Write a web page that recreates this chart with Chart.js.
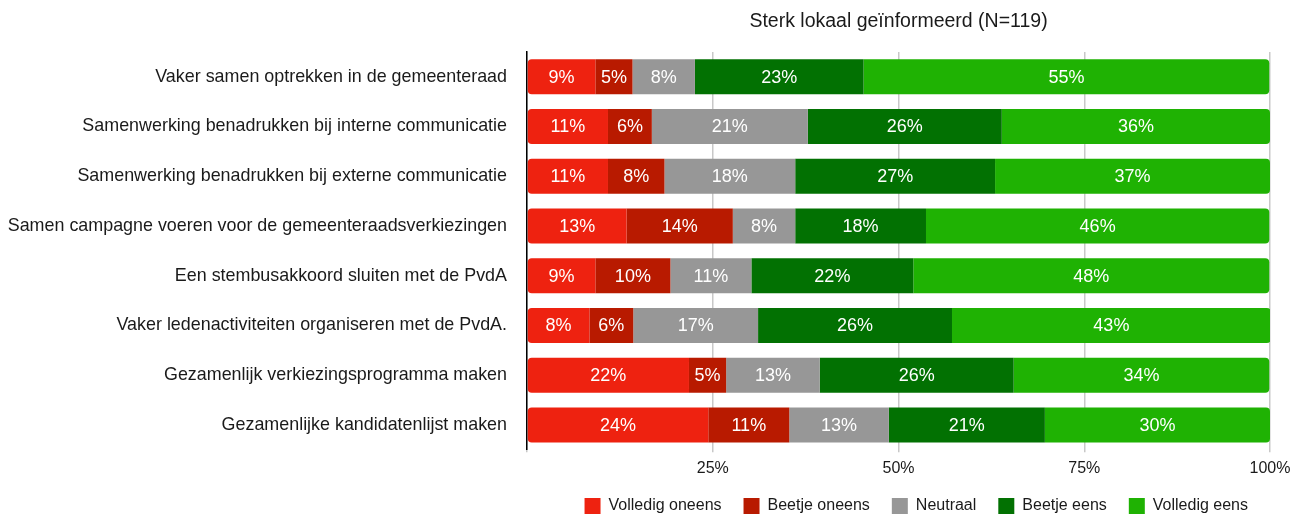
<!DOCTYPE html>
<html>
<head>
<meta charset="utf-8">
<script src="https://cdn.jsdelivr.net/npm/chart.js@4"></script>
<style>
  html, body { margin: 0; padding: 0; background: #fff; }
  #wrap { width: 1304px; height: 515px; }
</style>
</head>
<body>
<div id="wrap"><canvas id="chart"></canvas></div>
<script>
// categories and series (percentages of N=119)
const categories = [
  "Vaker samen optrekken in de gemeenteraad",
  "Samenwerking benadrukken bij interne communicatie",
  "Samenwerking benadrukken bij externe communicatie",
  "Samen campagne voeren voor de gemeenteraadsverkiezingen",
  "Een stembusakkoord sluiten met de PvdA",
  "Vaker ledenactiviteiten organiseren met de PvdA.",
  "Gezamenlijk verkiezingsprogramma maken",
  "Gezamenlijke kandidatenlijst maken",
];
const volledigOneens = [9.2, 10.9, 10.9, 13.4, 9.2, 8.4, 21.8, 24.4];
const beetjeOneens = [5.0, 5.9, 7.6, 14.3, 10.1, 5.9, 5.0, 10.9];
const neutraal = [8.4, 21.0, 17.6, 8.4, 10.9, 16.8, 12.6, 13.4];
const beetjeEens = [22.7, 26.1, 26.9, 17.6, 21.8, 26.1, 26.1, 21.0];
const volledigEens = [54.6, 36.1, 37.0, 46.2, 47.9, 42.9, 34.4, 30.3];
const tickValues = [25, 50, 75, 100];

const FONT = "'Liberation Sans', Arial, Helvetica, sans-serif";
Chart.defaults.font.family = FONT;
Chart.defaults.font.size = 16;
Chart.defaults.color = "#1a1a1a";

// white percentage labels inside the segments
const segmentLabels = {
  id: "segmentLabels",
  afterDatasetsDraw(chart) {
    const ctx = chart.ctx;
    ctx.save();
    ctx.font = "18px " + FONT;
    ctx.fillStyle = "#ffffff";
    ctx.textAlign = "center";
    ctx.textBaseline = "middle";
    chart.data.datasets.forEach(function (ds, di) {
      const meta = chart.getDatasetMeta(di);
      meta.data.forEach(function (bar, i) {
        const v = ds.data[i];
        const x = (bar.x + bar.base) / 2;
        ctx.fillText(Math.round(v) + "%", x, bar.y + 1);
      });
    });
    ctx.restore();
  },
};

// x tick labels, placed a bit further below the axis than chart.js allows
const xTickLabels = {
  id: "xTickLabels",
  afterDraw(chart) {
    const ctx = chart.ctx;
    const scale = chart.scales.x;
    ctx.save();
    ctx.font = "16px " + FONT;
    ctx.fillStyle = "#1a1a1a";
    ctx.textAlign = "center";
    ctx.textBaseline = "middle";
    tickValues.forEach(function (v) {
      ctx.fillText(v + "%", scale.getPixelForValue(v), chart.chartArea.bottom + 18.5);
    });
    ctx.restore();
  },
};

const R = 4;
function makeSet(label, data, color, radius) {
  return {
    label: label,
    data: data,
    backgroundColor: color,
    borderWidth: 0,
    borderSkipped: false,
    borderRadius: radius,
    barPercentage: 0.705,
    categoryPercentage: 1,
  };
}
const noRadius = { topLeft: 0, topRight: 0, bottomLeft: 0, bottomRight: 0 };

new Chart(document.getElementById("chart"), {
  type: "bar",
  data: {
    labels: categories,
    datasets: [
      makeSet("Volledig oneens", volledigOneens, "#ee2210", { topLeft: R, bottomLeft: R, topRight: 0, bottomRight: 0 }),
      makeSet("Beetje oneens", beetjeOneens, "#b81a00", noRadius),
      makeSet("Neutraal", neutraal, "#979797", noRadius),
      makeSet("Beetje eens", beetjeEens, "#027102", noRadius),
      makeSet("Volledig eens", volledigEens, "#1fb203", { topLeft: 0, bottomLeft: 0, topRight: R, bottomRight: R }),
    ],
  },
  options: {
    indexAxis: "y",
    responsive: true,
    maintainAspectRatio: false,
    animation: false,
    layout: { padding: { left: 0, right: 34, top: 7, bottom: -9 } },
    plugins: {
      title: {
        display: true,
        text: "Sterk lokaal geïnformeerd (N=119)",
        fullSize: false,
        font: { size: 19.5, weight: "normal" },
        color: "#1a1a1a",
        padding: { top: 3, bottom: 18.5 },
      },
      legend: {
        position: "bottom",
        align: "end",
        fullSize: false,
        labels: {
          boxWidth: 16,
          boxHeight: 16,
          padding: 22,
          color: "#1a1a1a",
          font: { size: 16 },
        },
      },
      tooltip: { enabled: false },
    },
    scales: {
      x: {
        stacked: true,
        min: 0,
        max: 100,
        afterBuildTicks: function (scale) {
          scale.ticks = [0].concat(tickValues).map(function (v) { return { value: v }; });
        },
        afterFit: function (scale) { scale.height = 26.2; },
        ticks: { display: false },
        grid: { color: "#c8c8c8", lineWidth: 1.5, tickLength: 2.5 },
        border: { display: false },
      },
      y: {
        stacked: true,
        afterFit: function (scale) { scale.width = 527; },
        ticks: { padding: 20, color: "#1a1a1a", font: { size: 17.9 } },
        grid: { display: false, drawTicks: false },
        border: { display: true, color: "#000000", width: 1.5 },
      },
    },
  },
  plugins: [segmentLabels, xTickLabels],
});
</script>
</body>
</html>
